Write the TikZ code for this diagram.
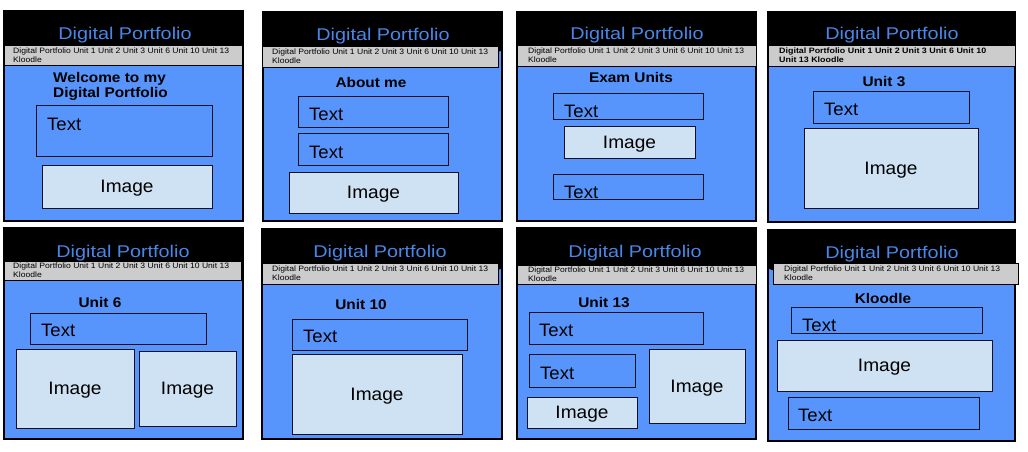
\documentclass[tikz,border=0pt]{standalone}
\usepackage{graphicx}
\usepackage{fontspec}
\setmainfont{Liberation Sans}
\usetikzlibrary{fit}

\definecolor{pblue}{HTML}{5795FC}
\definecolor{ttlblue}{HTML}{4A86E8}
\definecolor{navgray}{HTML}{CCCCCC}
\definecolor{imgfill}{HTML}{CFE2F3}
\definecolor{boxline}{HTML}{111122}

% fonts and repeated texts
\newcommand\dpTitleFont{\fontsize{17}{20}\selectfont}
\newcommand\dpNavFont{\fontsize{7.8}{9}\selectfont}
\newcommand\dpHeadFont{\fontsize{14}{15}\selectfont\bfseries}
\newcommand\dpLabelFont{\fontsize{18}{20}\selectfont}
\newcommand\dpTitle{\scalebox{1.165}[1]{Digital Portfolio}}
\newcommand\dpNav{\scalebox{1.1}[1]{\begin{tabular}[t]{@{}l@{}}Digital Portfolio Unit 1 Unit 2 Unit 3 Unit 6 Unit 10 Unit 13\\Kloodle\end{tabular}}}
\newcommand\dpNavBold{\scalebox{1.14}[1]{\bfseries\begin{tabular}[t]{@{}l@{}}Digital Portfolio Unit 1 Unit 2 Unit 3 Unit 6 Unit 10\\Unit 13 Kloodle\end{tabular}}}
\newcommand\dpHead[1]{\scalebox{1.1}[1]{#1}}
\newcommand\dpText{\scalebox{1.03}[1]{Text}}
\newcommand\dpImage{\scalebox{1.06}[1]{Image}}

\tikzset{
  frame/.style={draw=black, line width=1.2pt, fill=pblue, inner sep=0pt, outer sep=0pt},
  headbar/.style={fill=black, rounded corners=4pt, inner sep=0pt, outer sep=0pt},
  navbar/.style={draw=black, line width=0.8pt, fill=navgray, inner sep=0pt, outer sep=0pt},
  txtbox/.style={draw=boxline, line width=1pt, inner sep=0pt, outer sep=0pt},
  imgbox/.style={draw=boxline, line width=1pt, fill=imgfill, inner sep=0pt, outer sep=0pt},
  ttl/.style={anchor=base, text=ttlblue, inner sep=0pt, font=\dpTitleFont},
  nav/.style={anchor=base west, inner sep=0pt, font=\dpNavFont},
  hd/.style={anchor=base, inner sep=0pt, font=\dpHeadFont},
  lbl/.style={anchor=base west, inner sep=0pt, font=\dpLabelFont},
  imglbl/.style={anchor=center, inner sep=0pt, text depth=0pt, font=\dpLabelFont},
}

\begin{document}
\begin{tikzpicture}[x=1pt, y=-1pt]
\useasboundingbox (0,0) rectangle (1028,451);
\fill[white] (0,0) rectangle (1028,451);

% ---- Home page
\node[frame, fit={(4,11)(243,221)}] (f1) {};
\node[headbar, fit={(4,11)(243,52)}] (h1) {};
\node[navbar, fit={(4,45)(242,65)}] (n1) {};
\node[ttl] (t1) at (125,39.5) {\dpTitle};
\node[nav] (m1) at (13,53.5) {\dpNav};
\node[hd, anchor=base west] (c1) at (53,82)
  {\dpHead{\begin{tabular}[t]{@{}l@{}}Welcome to my\\Digital Portfolio\end{tabular}}};
\node[txtbox, fit={(36,105)(212,156)}] (b1a) {};
\node[lbl] (l1a) at (47,130) {\dpText};
\node[imgbox, fit={(42,165)(212,208)}] (b1b) {};
\node[imglbl] (l1b) at (b1b.center) {\dpImage};

% ---- About me
\node[frame, fit={(263,12)(502,221)}] (f2) {};
\node[headbar, fit={(263,12)(502,52)}] (h2) {};
\node[navbar, fit={(262,46)(498,67)}] (n2) {};
\node[ttl] (t2) at (383,40) {\dpTitle};
\node[nav] (m2) at (272,54.5) {\dpNav};
\node[hd] (c2) at (371,87) {\dpHead{About me}};
\node[txtbox, fit={(298,96)(448,127)}] (b2a) {};
\node[lbl] (l2a) at (309,120.5) {\dpText};
\node[txtbox, fit={(298,133)(448,165)}] (b2b) {};
\node[lbl] (l2b) at (309,158.5) {\dpText};
\node[imgbox, fit={(289,172)(458,213)}] (b2c) {};
\node[imglbl] (l2c) at (b2c.center) {\dpImage};

% ---- Exam Units
\node[frame, fit={(517,12)(756,221)}] (f3) {};
\node[headbar, fit={(517,12)(756,52)}] (h3) {};
\node[navbar, fit={(517,45)(756,66)}] (n3) {};
\node[ttl] (t3) at (637,39.5) {\dpTitle};
\node[nav] (m3) at (528,53.5) {\dpNav};
\node[hd] (c3) at (631,82) {\dpHead{Exam Units}};
\node[txtbox, fit={(553,93)(703,119)}] (b3a) {};
\node[lbl] (l3a) at (564,117.5) {\dpText};
\node[imgbox, fit={(564,126)(695,158)}] (b3b) {};
\node[imglbl] (l3b) at (b3b.center) {\dpImage};
\node[txtbox, fit={(553,174)(703,199)}] (b3c) {};
\node[lbl] (l3c) at (564,198.5) {\dpText};

% ---- Unit 3
\node[frame, fit={(768,12)(1015,222)}] (f4) {};
\node[headbar, fit={(768,12)(1015,52)}] (h4) {};
\node[navbar, fit={(768,45)(1015,66)}] (n4) {};
\node[ttl] (t4) at (892,39.5) {\dpTitle};
\node[nav] (m4) at (779,53.5) {\dpNavBold};
\node[hd] (c4) at (884,86) {\dpHead{Unit 3}};
\node[txtbox, fit={(813,91)(969,123)}] (b4a) {};
\node[lbl] (l4a) at (824,115.5) {\dpText};
\node[imgbox, fit={(804,128)(978,208)}] (b4b) {};
\node[imglbl] (l4b) at (b4b.center) {\dpImage};

% ---- Unit 6
\node[frame, fit={(4,228)(243,439)}] (f5) {};
\node[headbar, fit={(4,228)(243,268)}] (h5) {};
\node[navbar, fit={(4,261)(241,280)}] (n5) {};
\node[ttl] (t5) at (123,257) {\dpTitle};
\node[nav] (m5) at (13,268.5) {\dpNav};
\node[hd] (c5) at (100,307) {\dpHead{Unit 6}};
\node[txtbox, fit={(30,313)(206,344)}] (b5a) {};
\node[lbl] (l5a) at (41,336.5) {\dpText};
\node[imgbox, fit={(16,349)(134,428)}] (b5b) {};
\node[imglbl] (l5b) at (b5b.center) {\dpImage};
\node[imgbox, fit={(139,351)(236,426)}] (b5c) {};
\node[imglbl] (l5c) at (b5c.center) {\dpImage};

% ---- Unit 10
\node[frame, fit={(262,229)(502,439)}] (f6) {};
\node[headbar, fit={(262,229)(502,270)}] (h6) {};
\node[navbar, fit={(262,263)(498,284)}] (n6) {};
\node[ttl] (t6) at (380,257) {\dpTitle};
\node[nav] (m6) at (272,271) {\dpNav};
\node[hd] (c6) at (361,309) {\dpHead{Unit 10}};
\node[txtbox, fit={(292,319)(467,350)}] (b6a) {};
\node[lbl] (l6a) at (303,342.5) {\dpText};
\node[imgbox, fit={(292,354)(462,434)}] (b6b) {};
\node[imglbl] (l6b) at (b6b.center) {\dpImage};

% ---- Unit 13
\node[frame, fit={(517,228)(756,439)}] (f7) {};
\node[headbar, fit={(517,228)(756,272)}] (h7) {};
\node[navbar, fit={(517,265)(756,284)}] (n7) {};
\node[ttl] (t7) at (635,257) {\dpTitle};
\node[nav] (m7) at (528,272.5) {\dpNav};
\node[hd] (c7) at (604,307) {\dpHead{Unit 13}};
\node[txtbox, fit={(529,312)(703,344)}] (b7a) {};
\node[lbl] (l7a) at (539,336.5) {\dpText};
\node[txtbox, fit={(529,354)(635,387)}] (b7b) {};
\node[lbl] (l7b) at (540,379.5) {\dpText};
\node[imgbox, fit={(527,397)(637,428)}] (b7c) {};
\node[imglbl] (l7c) at (b7c.center) {\dpImage};
\node[imgbox, fit={(649,349)(745,423)}] (b7d) {};
\node[imglbl] (l7d) at (b7d.center) {\dpImage};

% ---- Kloodle
\node[frame, fit={(768,230)(1015,441)}] (f8) {};
\node[headbar, fit={(768,230)(1015,270)}] (h8) {};
\node[navbar, fit={(773,263)(1018,284)}] (n8) {};
\node[ttl] (t8) at (892,258) {\dpTitle};
\node[nav] (m8) at (784,271.5) {\dpNav};
\node[hd] (c8) at (883,303) {\dpHead{Kloodle}};
\node[txtbox, fit={(791,307)(982,333)}] (b8a) {};
\node[lbl] (l8a) at (802,331.5) {\dpText};
\node[imgbox, fit={(777,340)(992,391)}] (b8b) {};
\node[imglbl] (l8b) at (b8b.center) {\dpImage};
\node[txtbox, fit={(788,397)(979,429)}] (b8c) {};
\node[lbl] (l8c) at (798,421.5) {\dpText};
\end{tikzpicture}
\end{document}
